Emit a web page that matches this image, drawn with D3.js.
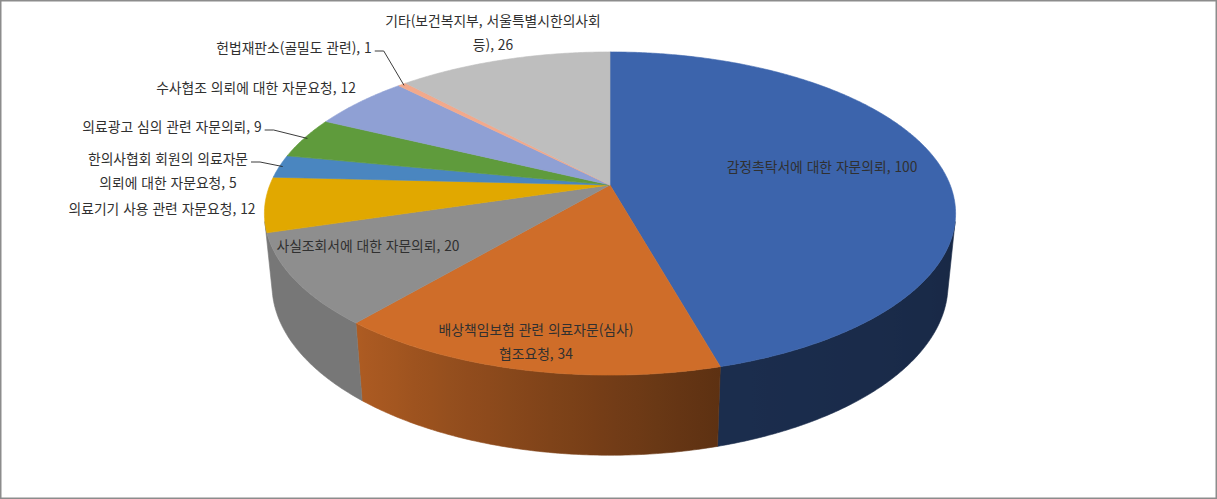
<!DOCTYPE html>
<html lang="ko">
<head>
<meta charset="UTF-8">
<title>자문 현황 3D 원형 차트</title>
<script src="https://d3js.org/d3.v7.min.js"></script>
<style>
    body { margin: 0; background: #fff; }
    text {
        font-family: "Noto Sans CJK KR", "Noto Sans", sans-serif;
        font-size: 13.8px;
        fill: #303030;
    }
</style>
</head>
<body>
<div id="chart"></div>
<script>
// data
const categories = [
    "감정촉탁서에 대한 자문의뢰",
    "배상책임보험 관련 의료자문(심사) 협조요청",
    "사실조회서에 대한 자문의뢰",
    "의료기기 사용 관련 자문요청",
    "한의사협회 회원의 의료자문 의뢰에 대한 자문요청",
    "의료광고 심의 관련 자문의뢰",
    "수사협조 의뢰에 대한 자문요청",
    "헌법재판소(골밀도 관련)",
    "기타(보건복지부, 서울특별시한의사회 등)"
];
const values = [100, 34, 20, 12, 5, 9, 12, 1, 26];
const colors = ["#3C64AC", "#CF6D29", "#8E8E8E", "#E1A800", "#4A86C0",
                "#5F9B3C", "#8FA0D4", "#F2A98C", "#BEBEBE"];

// label placement (center of first line, words on first line, leader line)
const labelLayout = [
    { x: 822, y: 166, wrap: 0 },
    { x: 536, y: 329, wrap: 3 },
    { x: 368, y: 245, wrap: 0 },
    { x: 162, y: 208, wrap: 0 },
    { x: 168, y: 158, wrap: 3, leader: true },
    { x: 172, y: 126, wrap: 0, leader: true },
    { x: 256, y: 87,  wrap: 0 },
    { x: 294, y: 47,  wrap: 0, leader: true },
    { x: 493, y: 20,  wrap: 2 }
];

const width = 1217, height = 499;

// 3D perspective setup (unit radius disc)
const cx = 610, cy = 185;
const tilt = 27.4 * Math.PI / 180;
const camDist = 5.03, focal = 1711, thick = 0.238;

function proj(X, Y, Z) {
    const depth = camDist - Y * Math.sin(tilt) - Z * Math.cos(tilt);
    return [cx + X * focal / depth,
            cy - (Y * Math.cos(tilt) - Z * Math.sin(tilt)) * focal / depth];
}
const rim = (a, Y = 0, r = 1) => proj(r * Math.sin(a), Y, -r * Math.cos(a));

const svg = d3.select("#chart").append("svg")
    .attr("width", width)
    .attr("height", height);

svg.append("rect")
    .attr("x", 0.75).attr("y", 0.75)
    .attr("width", width - 1.5).attr("height", height - 1.5)
    .attr("fill", "#fff")
    .attr("stroke", "#8c8c8c")
    .attr("stroke-width", 1.5);

const pie = d3.pie().sort(null).value(d => d);
const arcs = pie(values);

const step = Math.PI / 360;
const sample = (a0, a1) => {
    const n = Math.max(2, Math.ceil((a1 - a0) / step));
    return d3.range(n + 1).map(i => a0 + (a1 - a0) * i / n);
};

// visible part of the outer wall
const aVis = Math.acos(-1 / (camDist * Math.cos(tilt)));
const shade = d3.scaleLinear()
    .domain([100, 165, 220, 260])
    .range([0.40, 0.45, 0.84, 0.84])
    .clamp(true);
const darken = (c, k) => {
    const r = d3.rgb(c);
    return d3.rgb(r.r * k, r.g * k, r.b * k).formatHex();
};

// wall pieces; a sliver at either silhouette is absorbed by its neighbour
const minWall = 5 * Math.PI / 180;
let walls = arcs.map((d, i) => ({
    i,
    a0: Math.max(d.startAngle, aVis),
    a1: Math.min(d.endAngle, 2 * Math.PI - aVis)
})).filter(w => w.a1 > w.a0);
if (walls.length > 1 && walls[walls.length - 1].a1 - walls[walls.length - 1].a0 < minWall) {
    walls[walls.length - 2].a1 = walls.pop().a1;
}
if (walls.length > 1 && walls[0].a1 - walls[0].a0 < minWall) {
    walls[1].a0 = walls.shift().a0;
}

const defs = svg.append("defs");
const line = d3.line();

// side walls
walls.forEach(({ i, a0, a1 }) => {
    const angles = sample(a0, a1);
    const top = angles.map(a => rim(a, 0));
    const bottom = angles.map(a => rim(a, -thick)).reverse();

    const xs = top[0][0], xe = top[top.length - 1][0];
    const grad = defs.append("linearGradient")
        .attr("id", "side" + i)
        .attr("gradientUnits", "userSpaceOnUse")
        .attr("x1", xs).attr("x2", xe)
        .attr("y1", 0).attr("y2", 0);
    angles.filter((_, j, arr) => j % 6 === 0 || j === arr.length - 1)
        .forEach(a => {
            const off = xe === xs ? 0 : (rim(a)[0] - xs) / (xe - xs);
            grad.append("stop")
                .attr("offset", Math.min(1, Math.max(0, off)))
                .attr("stop-color", darken(colors[i], shade(a * 180 / Math.PI)));
        });

    svg.append("path")
        .attr("d", line(top.concat(bottom)) + "Z")
        .attr("fill", `url(#side${i})`)
        .attr("stroke", `url(#side${i})`)
        .attr("stroke-width", 0.6);
});

// top faces
arcs.forEach((d, i) => {
    const pts = [proj(0, 0, 0)].concat(sample(d.startAngle, d.endAngle).map(a => rim(a, 0)));
    svg.append("path")
        .attr("d", line(pts) + "Z")
        .attr("fill", colors[i])
        .attr("stroke", colors[i])
        .attr("stroke-width", 0.6);
});

// labels
const lineGap = 24;
arcs.forEach((d, i) => {
    const lay = labelLayout[i];
    const words = (categories[i] + ", " + values[i]).split(" ");
    const lines = lay.wrap ? [words.slice(0, lay.wrap).join(" "), words.slice(lay.wrap).join(" ")]
                           : [words.join(" ")];
    const t = svg.append("text")
        .attr("text-anchor", "middle");
    lines.forEach((s, j) => {
        t.append("tspan")
            .attr("x", lay.x)
            .attr("y", lay.y + j * lineGap)
            .attr("dominant-baseline", "central")
            .text(s);
    });

    if (lay.leader) {
        const first = t.select("tspan").node();
        const w = first.getComputedTextLength();
        const x0 = lay.x + w / 2 + 3, y0 = lay.y + 4;
        const mid = (d.startAngle + d.endAngle) / 2;
        const end = rim(mid, 0, 0.99);
        svg.append("path")
            .attr("d", line([[x0, y0], [x0 + 9, y0], end]))
            .attr("fill", "none")
            .attr("stroke", "#262626")
            .attr("stroke-width", 0.9);
    }
});
</script>
</body>
</html>
